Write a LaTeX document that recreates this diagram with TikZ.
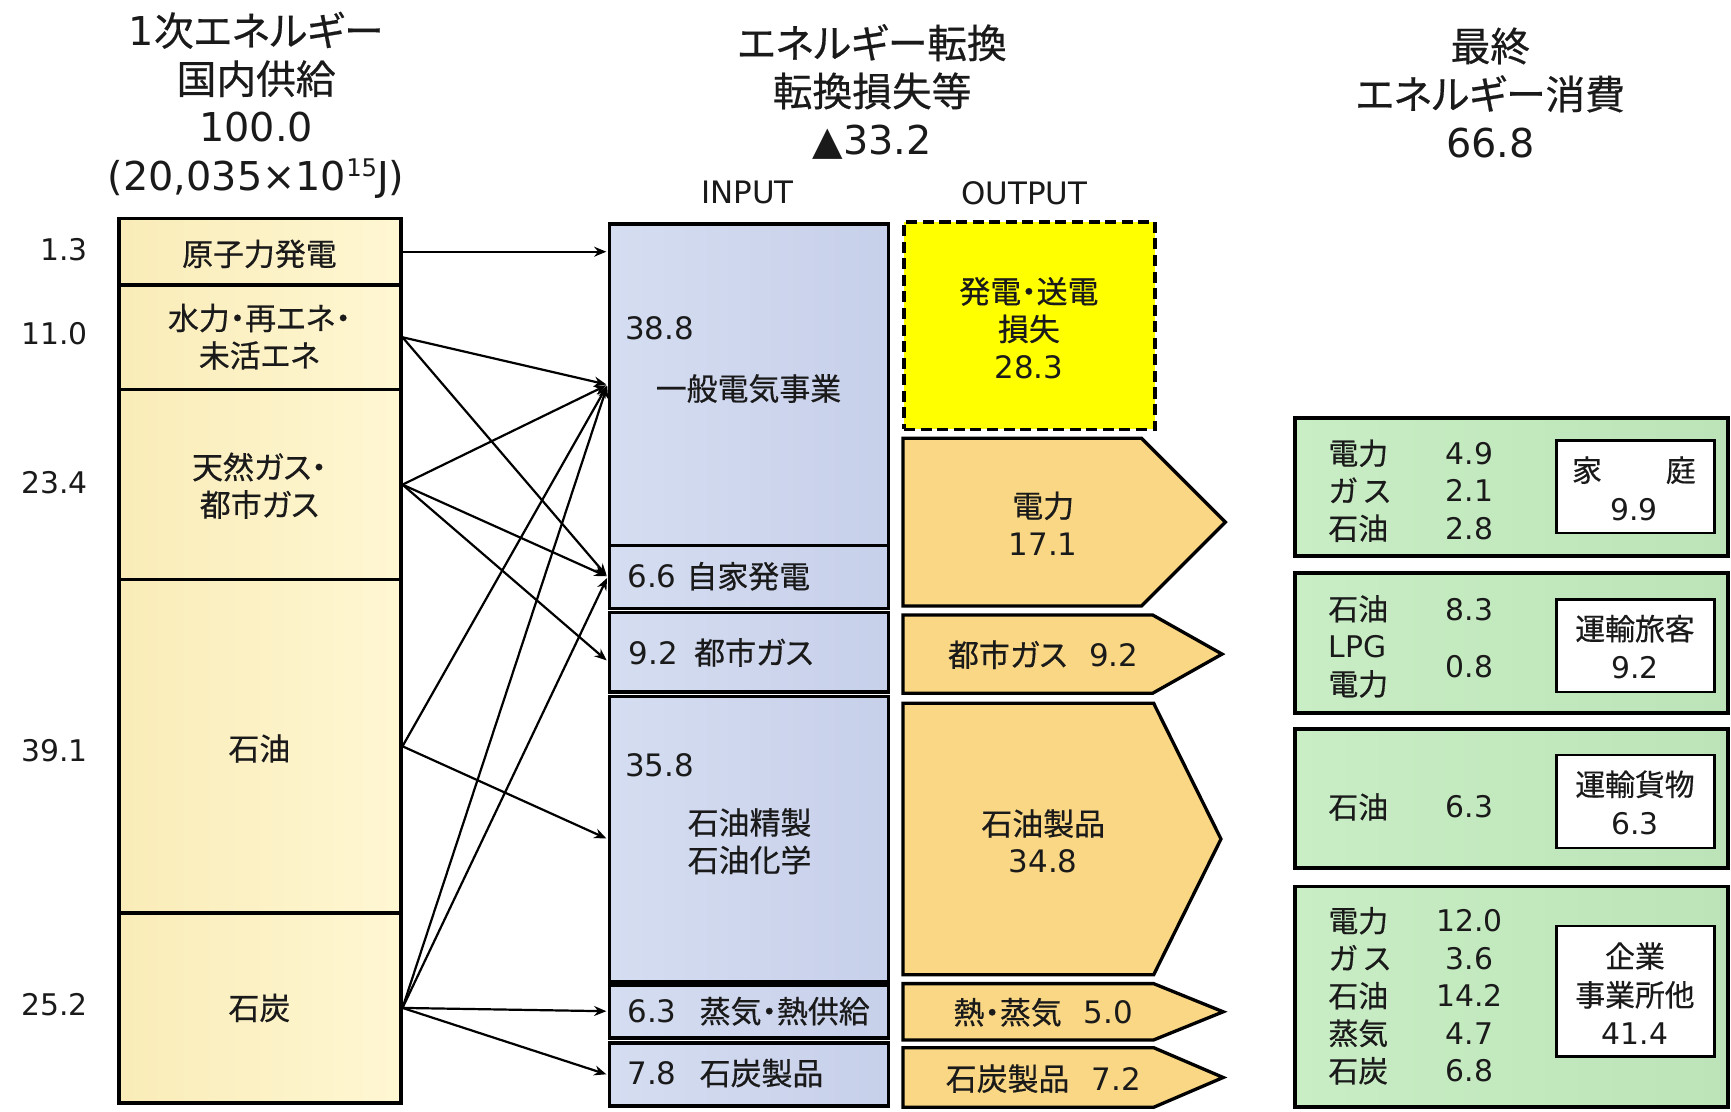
\documentclass[tikz,border=0pt]{standalone}
\usepackage{fontspec}
\setmainfont{DejaVu Sans}
\newfontfamily\jp[RawFeature=+palt, FakeBold=0.5]{Noto Sans CJK JP}
\usetikzlibrary{arrows.meta,fit}
\definecolor{creamL}{HTML}{F9ECB8}
\definecolor{creamR}{HTML}{FFF7D3}
\definecolor{blueL}{HTML}{D5DDF1}
\definecolor{blueR}{HTML}{C7D0EA}
\definecolor{orngC}{HTML}{F9D784}
\definecolor{lossY}{HTML}{FFFF00}
\definecolor{grnL}{HTML}{C9EDC5}
\definecolor{grnR}{HTML}{BCE4B8}
\definecolor{ink}{HTML}{1A1A1A}
\newcommand{\fsz}[2]{\fontsize{#1}{#2}\selectfont}
\begin{document}
\begin{tikzpicture}[x=0.5pt,y=-0.5pt,
  every node/.style={text=ink},
  bx/.style={draw=black, line width=1.6pt, inner sep=0pt},
  lbox/.style={bx, left color=creamL, right color=creamR},
  ibox/.style={bx, left color=blueL, right color=blueR},
  obox/.style={draw=black, line width=1.5pt, fill=orngC},
  gbox/.style={draw=black, line width=1.8pt, left color=grnL, right color=grnR, inner sep=0pt},
  wbox/.style={draw=black, line width=1pt, fill=white, inner sep=0pt},
  ttl/.style={align=center, font=\fsz{18}{21.8}},
  lbl/.style={align=center, inner sep=0pt, font=\fsz{14}{17}},
  wtx/.style={align=center, inner sep=0pt, font=\fsz{13.5}{17.5}},
  gtx/.style={align=left, inner sep=0pt, font=\fsz{13.5}{17}},
  gval/.style={align=center, inner sep=0pt, font=\fsz{13.5}{17}},
  lnum/.style={anchor=east, inner sep=0pt, font=\fsz{13.5}{16}},
  flow/.style={draw=black, line width=1pt, -{Stealth[length=5.5pt,width=4.5pt]}, shorten >=0.6pt}
]
\useasboundingbox (0,0) rectangle (1568,1007);
\fill[white] (0,0) rectangle (1568,1007);

% titles
\node[ttl] (t1) at (232,95) {1{\jp 次エネルギー}\\{\jp 国内供給}\\100.0\\(20,035×10\raisebox{0.6ex}{\fsz{11}{11}\selectfont 15}J)};
\node[ttl] (t2) at (790,83) {{\jp エネルギー転換}\\{\jp 転換損失等}\\▲33.2};
\node[ttl] (t3) at (1350,84) {{\jp 最終}\\{\jp エネルギー消費}\\66.8};
\node[lbl] (inp) at (677,174) {INPUT};
\node[lbl] (outp) at (928,175) {OUTPUT};

% left values
\node[lnum] (v1) at (80,226) {1.3};
\node[lnum] (v2) at (80,302) {11.0};
\node[lnum] (v3) at (80,437) {23.4};
\node[lnum] (v4) at (80,680) {39.1};
\node[lnum] (v5) at (80,910) {25.2};

% primary supply boxes
\node[lbox, fit={(108,198)(363,258)}] (nuc) {};
\node[lbox, fit={(108,258)(363,353)}] (hyd) {};
\node[lbox, fit={(108,353)(363,525)}] (gas) {};
\node[lbox, fit={(108,525)(363,827)}] (oil) {};
\node[lbox, fit={(108,827)(363,999)}] (coal) {};
\node[lbl] (nucl) at (235,230) {\jp 原子力発電};
\node[lbl] (hydl) at (235,305) {{\jp 水力・再エネ・}\\{\jp 未活エネ}};
\node[lbl] (gasl) at (235,440) {{\jp 天然ガス・}\\{\jp 都市ガス}};
\node[lbl] (oill) at (235,678) {\jp 石油};
\node[lbl] (coall) at (235,913) {\jp 石炭};

% input boxes
\node[ibox, fit={(552,203)(805,494)}] (gen) {};
\node[ibox, fit={(552,494)(805,551)}] (self) {};
\node[ibox, fit={(552,555)(805,627)}] (cgas) {};
\node[ibox, fit={(552,631)(805,889)}] (ref) {};
\node[ibox, fit={(552,892)(805,940)}] (steam) {};
\node[ibox, fit={(552,945)(805,1002)}] (coke) {};

\node[lbl, anchor=west] (genv) at (566,297) {38.8};
\node[lbl] (genn) at (678,352) {\jp 一般電気事業};
\node[lbl, anchor=west] (selfl) at (568,522) {6.6 {\jp 自家発電}};
\node[lbl, anchor=west] (cgasl) at (569,591) {9.2\hspace{3pt} {\jp 都市ガス}};
\node[lbl, anchor=west] (refv) at (566,693) {35.8};
\node[lbl] (refn) at (679,762) {{\jp 石油精製}\\{\jp 石油化学}};
\node[lbl, anchor=west] (steaml) at (568,916) {6.3\hspace{6pt} {\jp 蒸気・熱供給}};
\node[lbl, anchor=west] (cokel) at (568,972) {7.8\hspace{6pt} {\jp 石炭製品}};

% output
\node[bx, fill=lossY, dash pattern=on 5pt off 2.5pt, fit={(819,201)(1046,389)}] (loss) {};
\node[lbl] (lossl) at (932,297) {{\jp 発電・送電}\\{\jp 損失}\\28.3};
\draw[obox] (818,397) -- (1034,397) -- (1110,473) -- (1034,549) -- (818,549) -- cycle;
\draw[obox] (818,557) -- (1044,557) -- (1107,592.5) -- (1044,628) -- (818,628) -- cycle;
\draw[obox] (818,637) -- (1045,637) -- (1106,760) -- (1045,883) -- (818,883) -- cycle;
\draw[obox] (818,891) -- (1045,891) -- (1108,916.5) -- (1045,942) -- (818,942) -- cycle;
\draw[obox] (818,949) -- (1045,949) -- (1108,976) -- (1045,1003) -- (818,1003) -- cycle;
\node[lbl] (elecl) at (945,474) {{\jp 電力}\\17.1};
\node[lbl] (cgaso) at (945,593) {{\jp 都市ガス}\hspace{10pt}9.2};
\node[lbl] (oilpl) at (945,762) {{\jp 石油製品}\\34.8};
\node[lbl] (heatl) at (945,917) {{\jp 熱・蒸気}\hspace{10pt}5.0};
\node[lbl] (cokepl) at (945,977) {{\jp 石炭製品}\hspace{10pt}7.2};

% final consumption
\node[gbox, fit={(1173,379)(1565,504)}] (home) {};
\node[gbox, fit={(1173,519)(1565,646)}] (pass) {};
\node[gbox, fit={(1173,660)(1565,786)}] (frei) {};
\node[gbox, fit={(1173,803)(1565,1003)}] (biz) {};
\node[wbox, fit={(1410,399)(1553,483)}] (homew) {};
\node[wbox, fit={(1410,543)(1553,627)}] (passw) {};
\node[wbox, fit={(1410,684)(1553,768)}] (freiw) {};
\node[wbox, fit={(1410,839)(1553,957)}] (bizw) {};
\node[wtx] (homet) at (1480,442.5) {{\jp 家\hspace{29pt}庭}\\9.9};
\node[wtx] (passt) at (1481,586) {{\jp 運輸旅客}\\9.2};
\node[wtx] (freit) at (1481,727) {{\jp 運輸貨物}\\6.3};
\node[wtx] (bizt) at (1481,900) {{\jp 企業}\\{\jp 事業所他}\\41.4};

\node[gtx, anchor=west] (homen) at (1203,444.5) {{\jp 電力}\\{\jp ガ ス}\\{\jp 石油}};
\node[gval] (homev) at (1331,444.5) {4.9\\2.1\\2.8};
\node[gtx, anchor=west] (passn) at (1203,585.5) {{\jp 石油}\\LPG\\{\jp 電力}};
\node[gval] (passv1) at (1331,552) {8.3};
\node[gval] (passv2) at (1331,604) {0.8};
\node[gtx, anchor=west] (frein) at (1203,731) {\jp 石油};
\node[gval] (freiv) at (1331,731) {6.3};
\node[gtx, anchor=west] (bizn) at (1203,902) {{\jp 電力}\\{\jp ガ ス}\\{\jp 石油}\\{\jp 蒸気}\\{\jp 石炭}};
\node[gval] (bizv) at (1331,902) {12.0\\3.6\\14.2\\4.7\\6.8};

% flows
\draw[flow] (nuc.east) -- (nuc.east -| gen.west);
\draw[flow] (hyd.east) -- (gen.west);
\draw[flow] (hyd.east) -- (self.west);
\draw[flow] (gas.east) -- (gen.west);
\draw[flow] (gas.east) -- (self.west);
\draw[flow] (gas.east) -- ([yshift=-4pt]cgas.west);
\draw[flow] (oil.east) -- (gen.west);
\draw[flow] (oil.east) -- (ref.west);
\draw[flow] (coal.east) -- (gen.west);
\draw[flow] (coal.east) -- (self.west);
\draw[flow] (coal.east) -- (steam.west);
\draw[flow] (coal.east) -- (coke.west);
\end{tikzpicture}
\end{document}
